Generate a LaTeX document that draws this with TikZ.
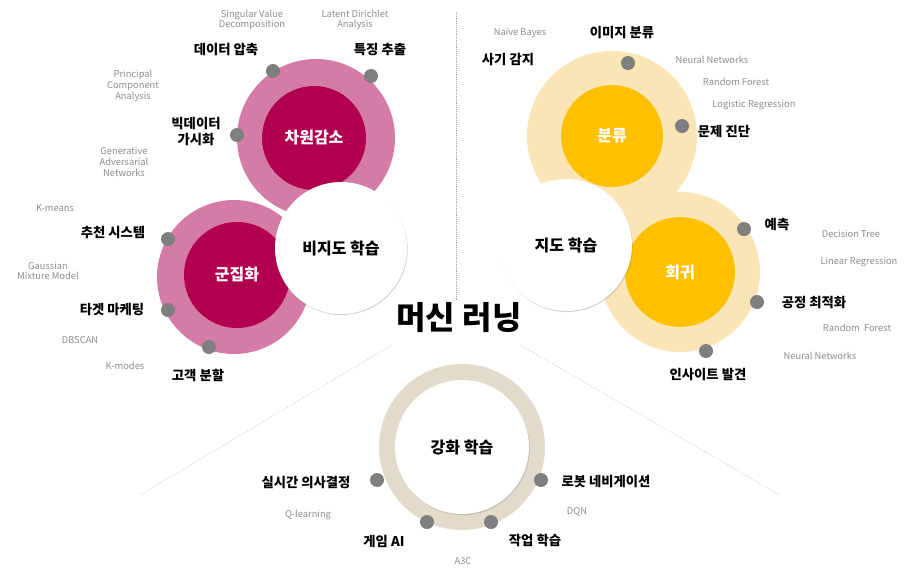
\documentclass[tikz,border=0pt]{standalone}
\usepackage{fontspec}
\setmainfont{Noto Sans CJK KR}
\usetikzlibrary{positioning,shadows}
\definecolor{pinkring}{HTML}{D47CA7}
\definecolor{pinkcore}{HTML}{B0004E}
\definecolor{goldring}{HTML}{FBE5B6}
\definecolor{goldcore}{HTML}{FFC000}
\definecolor{sandring}{HTML}{E2DACB}
\definecolor{dotgray}{HTML}{7F7F7F}
\definecolor{notegray}{HTML}{8C8C8C}
\tikzset{
  ring/.style={circle, inner sep=0pt},
  core/.style={circle, inner sep=0pt, text=white, font=\large\bfseries},
  hub/.style={circle, fill=white, inner sep=0pt, font=\large\bfseries, drop shadow={shadow xshift=0.5pt, shadow yshift=-0.8pt, opacity=0.35}},
  pin/.style={circle, fill=dotgray, minimum size=10.5pt, inner sep=0pt},
  tag/.style={font=\bfseries, align=center, inner sep=0pt},
  note/.style={font=\scriptsize, text=notegray, align=center, inner sep=0pt},
  guide/.style={densely dotted, gray!70, thin},
}
\begin{document}
\begin{tikzpicture}[x=0.75pt, y=-0.75pt]
	\useasboundingbox (0,0) rectangle (918,576);
	% guide lines
	\draw[guide] (456,12) -- (456,300);
	\draw[guide] (392,345) -- (140,495);
	\draw[guide] (520,345) -- (780,495);
	% unsupervised
	\node[ring, fill=pinkring, minimum size=158*0.75pt] (dimring) at (316,138) {};
	\node[core, fill=pinkcore, minimum size=104*0.75pt] (dim) at (314,138) {차원감소};
	\node[ring, fill=pinkring, minimum size=154*0.75pt] (clring) at (234,277) {};
	\node[core, fill=pinkcore, minimum size=106*0.75pt] (cl) at (237,275) {군집화};
	\node[hub, minimum size=132*0.75pt] (unsup) at (341,248) {비지도 학습};
	% supervised
	\node[ring, fill=goldring, minimum size=170*0.75pt] (clsring) at (612,136) {};
	\node[core, fill=goldcore, minimum size=102*0.75pt] (cls) at (612,136) {분류};
	\node[ring, fill=goldring, minimum size=160*0.75pt] (regring) at (680,272) {};
	\node[core, fill=goldcore, minimum size=110*0.75pt] (reg) at (680,272) {회귀};
	\node[hub, minimum size=132*0.75pt] (sup) at (566,245) {지도 학습};
	% reinforcement
	\node[ring, fill=sandring, minimum size=166*0.75pt] (rlring) at (462,447) {};
	\node[hub, minimum size=134*0.75pt] (rl) at (462,447) {강화 학습};
	% title
	\node[font=\bfseries\fontsize{24}{28}\selectfont] (title) at (459,318) {머신 러닝};
	% pins
	\foreach \name/\x/\y in {pa/273/71, pb/371/76, pc/237/135, pd/168/239, pe/168/310, pf/209/347,
		pg/628/63, ph/682/126, pi/744/229, pj/757/302, pk/706/351,
		pl/377/480, pm/541/480, pn/427/522, po/491/522}
		\node[pin] (\name) at (\x,\y) {};
	% labels
	\node[tag] (l1) at (226,50) {데이터 압축};
	\node[tag] (l2) at (380,50) {특징 추출};
	\node[tag] (l3) at (196,132) {빅데이터\\가시화};
	\node[tag] (l4) at (113,233) {추천 시스템};
	\node[tag] (l5) at (112,310) {타겟 마케팅};
	\node[tag] (l6) at (198,375) {고객 분할};
	\node[tag] (l7) at (508,60) {사기 감지};
	\node[tag] (l8) at (622,33) {이미지 분류};
	\node[tag] (l9) at (724,131) {문제 진단};
	\node[tag] (l10) at (777,224) {예측};
	\node[tag] (l11) at (814,303) {공정 최적화};
	\node[tag] (l12) at (708,375) {인사이트 발견};
	\node[tag] (l13) at (306,483) {실시간 의사결정};
	\node[tag] (l14) at (606,482) {로봇 네비게이션};
	\node[tag] (l15) at (384,541) {게임 AI};
	\node[tag] (l16) at (535,540) {작업 학습};
	% notes
	\node[note] (n1) at (252,20) {Singular Value\\Decomposition};
	\node[note] (n2) at (355,20) {Latent Dirichlet\\Analysis};
	\node[note] (n3) at (133,86) {Principal\\Component\\Analysis};
	\node[note] (n4) at (124,162) {Generative\\Adversarial\\Networks};
	\node[note] (n5) at (55,208) {K-means};
	\node[note] (n6) at (48,271) {Gaussian\\Mixture Model};
	\node[note] (n7) at (80,340) {DBSCAN};
	\node[note] (n8) at (125,366) {K-modes};
	\node[note] (n9) at (520,33) {Naïve Bayes};
	\node[note] (n10) at (712,60) {Neural Networks};
	\node[note] (n11) at (736,82) {Random Forest};
	\node[note] (n12) at (754,105) {Logistic Regression};
	\node[note] (n13) at (851,234) {Decision Tree};
	\node[note] (n14) at (859,262) {Linear Regression};
	\node[note] (n15) at (857,328) {Random\ \ Forest};
	\node[note] (n16) at (820,356) {Neural Networks};
	\node[note] (n17) at (308,515) {Q-learning};
	\node[note] (n18) at (577,512) {DQN};
	\node[note] (n19) at (463,561) {A3C};
\end{tikzpicture}
\end{document}
